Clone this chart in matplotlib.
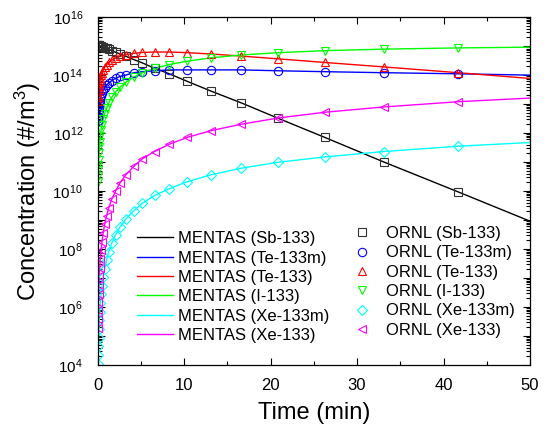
import numpy as np
import matplotlib
matplotlib.use("Agg")
import matplotlib.pyplot as plt
from matplotlib.ticker import LogLocator, FuncFormatter, MultipleLocator, NullFormatter

plt.rcParams["font.family"] = ["Liberation Sans", "DejaVu Sans"]
plt.rcParams["mathtext.fontset"] = "custom"
plt.rcParams["mathtext.rm"] = "Liberation Sans"
plt.rcParams["mathtext.it"] = "Liberation Sans:italic"

# ============================================================
#  A-133 chain concentrations [#/m^3] vs time [min]
# ============================================================
# MENTAS (lines)
t_mentas = [0.002, 0.005, 0.01, 0.02, 0.035, 0.052, 0.066, 0.083, 0.105, 0.13, 0.165,
            0.21, 0.26, 0.33, 0.42, 0.52, 0.66, 0.83, 1.05, 1.3, 1.65, 2.1, 2.6, 3.3,
            4.2, 5.2, 6.6, 8.3, 10.4, 13.1, 16.6, 20.9, 26.3, 33.1, 41.7, 50.0]
sb133_mentas = [1.1e15, 1.1e15, 1.1e15, 1.1e15, 1.1e15, 1.1e15, 1.1e15, 1.1e15, 1.1e15,
                1.1e15, 1.1e15, 1.0e15, 1.0e15, 1.0e15, 9.8e14, 9.5e14, 9.1e14, 8.7e14,
                8.2e14, 7.6e14, 6.9e14, 6.1e14, 5.3e14, 4.4e14, 3.4e14, 2.6e14, 1.7e14,
                1.1e14, 6.0e13, 2.8e13, 1.1e13, 3.2e12, 7.0e11, 1.0e11, 9.3e9, 9.1e8]
te133m_mentas = [9.9e10, 2.5e11, 4.9e11, 9.8e11, 1.7e12, 2.5e12, 3.2e12, 4.0e12, 5.1e12,
                 6.3e12, 7.9e12, 1.0e13, 1.2e13, 1.6e13, 1.9e13, 2.4e13, 3.0e13, 3.6e13,
                 4.5e13, 5.3e13, 6.4e13, 7.7e13, 8.9e13, 1.0e14, 1.2e14, 1.3e14, 1.4e14,
                 1.5e14, 1.5e14, 1.5e14, 1.5e14, 1.4e14, 1.3e14, 1.2e14, 1.1e14, 9.9e13]
te133_mentas = [5.2e11, 1.3e12, 2.6e12, 5.2e12, 9.0e12, 1.3e13, 1.7e13, 2.1e13, 2.7e13,
                3.3e13, 4.2e13, 5.2e13, 6.4e13, 8.1e13, 1.0e14, 1.2e14, 1.5e14, 1.9e14,
                2.3e14, 2.7e14, 3.3e14, 3.9e14, 4.4e14, 5.0e14, 5.6e14, 6.0e14, 6.2e14,
                6.2e14, 5.9e14, 5.3e14, 4.5e14, 3.6e14, 2.7e14, 1.9e14, 1.2e14, 7.6e13]
i133_mentas = [3.0e7, 1.9e8, 7.4e8, 3.0e9, 9.1e9, 2.0e10, 3.2e10, 5.1e10, 8.1e10, 1.2e11,
               2.0e11, 3.2e11, 4.9e11, 7.8e11, 1.3e12, 1.9e12, 3.0e12, 4.7e12, 7.3e12,
               1.1e13, 1.7e13, 2.6e13, 3.8e13, 5.7e13, 8.5e13, 1.2e14, 1.7e14, 2.3e14,
               3.0e14, 3.9e14, 4.9e14, 5.9e14, 6.9e14, 7.8e14, 8.6e14, 9.1e14]
xe133m_mentas = [0.33, 5.0, 40.0, 3.2e2, 1.7e3, 5.6e3, 1.1e4, 2.3e4, 4.6e4, 8.7e4, 1.8e5,
                 3.6e5, 6.9e5, 1.4e6, 2.9e6, 5.4e6, 1.1e7, 2.1e7, 4.2e7, 7.9e7, 1.6e8,
                 3.1e8, 5.7e8, 1.1e9, 2.1e9, 3.8e9, 7.0e9, 1.2e10, 2.1e10, 3.6e10, 6.1e10,
                 9.8e10, 1.5e11, 2.3e11, 3.5e11, 4.7e11]
xe133_mentas = [11.0, 1.7e2, 1.3e3, 1.1e4, 5.7e4, 1.9e5, 3.8e5, 7.6e5, 1.5e6, 2.9e6, 5.9e6,
                1.2e7, 2.3e7, 4.7e7, 9.6e7, 1.8e8, 3.6e8, 7.1e8, 1.4e9, 2.6e9, 5.2e9,
                1.0e10, 1.9e10, 3.7e10, 7.1e10, 1.3e11, 2.3e11, 4.1e11, 7.1e11, 1.2e12,
                2.0e12, 3.3e12, 5.2e12, 7.9e12, 1.2e13, 1.6e13]

# ORNL (markers)
t_ornl = [0.052, 0.066, 0.083, 0.105, 0.13, 0.165, 0.21, 0.26, 0.33, 0.42, 0.52, 0.66,
          0.83, 1.05, 1.3, 1.65, 2.1, 2.6, 3.3, 4.2, 5.2, 6.6, 8.3, 10.4, 13.1, 16.6,
          20.9, 26.3, 33.1, 41.7]
sb133_ornl = [1.1e15, 1.1e15, 1.1e15, 1.1e15, 1.1e15, 1.1e15, 1.0e15, 1.0e15, 1.0e15,
              9.8e14, 9.5e14, 9.1e14, 8.7e14, 8.2e14, 7.6e14, 6.9e14, 6.1e14, 5.3e14,
              4.4e14, 3.4e14, 2.6e14, 1.7e14, 1.1e14, 6.0e13, 2.8e13, 1.1e13, 3.2e12,
              7.0e11, 1.0e11, 9.3e9]
te133m_ornl = [2.5e12, 3.2e12, 4.0e12, 5.1e12, 6.3e12, 7.9e12, 1.0e13, 1.2e13, 1.6e13,
               1.9e13, 2.4e13, 3.0e13, 3.6e13, 4.5e13, 5.3e13, 6.4e13, 7.7e13, 8.9e13,
               1.0e14, 1.2e14, 1.3e14, 1.4e14, 1.5e14, 1.5e14, 1.5e14, 1.5e14, 1.4e14,
               1.3e14, 1.2e14, 1.1e14]
te133_ornl = [1.3e13, 1.7e13, 2.1e13, 2.7e13, 3.3e13, 4.2e13, 5.2e13, 6.4e13, 8.1e13,
              1.0e14, 1.2e14, 1.5e14, 1.9e14, 2.3e14, 2.7e14, 3.3e14, 3.9e14, 4.4e14,
              5.0e14, 5.6e14, 6.0e14, 6.2e14, 6.2e14, 5.9e14, 5.3e14, 4.5e14, 3.6e14,
              2.7e14, 1.9e14, 1.2e14]
i133_ornl = [2.0e10, 3.2e10, 5.1e10, 8.1e10, 1.2e11, 2.0e11, 3.2e11, 4.9e11, 7.8e11,
             1.3e12, 1.9e12, 3.0e12, 4.7e12, 7.3e12, 1.1e13, 1.7e13, 2.6e13, 3.8e13,
             5.7e13, 8.5e13, 1.2e14, 1.7e14, 2.3e14, 3.0e14, 3.9e14, 4.9e14, 5.9e14,
             6.9e14, 7.8e14, 8.6e14]
xe133m_ornl = [5.6e3, 1.1e4, 2.3e4, 4.6e4, 8.7e4, 1.8e5, 3.6e5, 6.9e5, 1.4e6, 2.9e6,
               5.4e6, 1.1e7, 2.1e7, 4.2e7, 7.9e7, 1.6e8, 3.1e8, 5.7e8, 1.1e9, 2.1e9,
               3.8e9, 7.0e9, 1.2e10, 2.1e10, 3.6e10, 6.1e10, 9.8e10, 1.5e11, 2.3e11,
               3.5e11]
xe133_ornl = [1.9e5, 3.8e5, 7.6e5, 1.5e6, 2.9e6, 5.9e6, 1.2e7, 2.3e7, 4.7e7, 9.6e7,
              1.8e8, 3.6e8, 7.1e8, 1.4e9, 2.6e9, 5.2e9, 1.0e10, 1.9e10, 3.7e10, 7.1e10,
              1.3e11, 2.3e11, 4.1e11, 7.1e11, 1.2e12, 2.0e12, 3.3e12, 5.2e12, 7.9e12,
              1.2e13]

nuclides = ["Sb-133", "Te-133m", "Te-133", "I-133", "Xe-133m", "Xe-133"]
mentas = [sb133_mentas, te133m_mentas, te133_mentas, i133_mentas, xe133m_mentas, xe133_mentas]
ornl = [sb133_ornl, te133m_ornl, te133_ornl, i133_ornl, xe133m_ornl, xe133_ornl]

colors = ["black", "#0000ff", "#ff0000", "#00ff00", "#00ffff", "#ff00ff"]
markers = ["s", "o", "^", "v", "D", "<"]
msizes = [5.5, 6.0, 6.0, 6.0, 4.8, 6.0]

# ============================================================
#  PLOT
# ============================================================
fig = plt.figure(figsize=(5.49, 4.34), dpi=100)
ax = fig.add_axes([97.5 / 549, 1 - 365 / 434, 432.5 / 549, 348 / 434])

h_lines = []
for vals, c in zip(mentas, colors):
    ln, = ax.plot(t_mentas, vals, color=c, lw=1.0)
    h_lines.append(ln)

h_pts = []
for vals, c, m, ms in zip(ornl, colors, markers, msizes):
    p, = ax.plot(t_ornl, vals, ls="none", marker=m, ms=ms, mfc="none",
                 mec="#333333" if c == "black" else c, mew=0.8)
    h_pts.append(p)

ax.set_yscale("log")
ax.set_xlim(0, 50)
ax.set_ylim(1e4, 1e16)
ax.xaxis.set_major_locator(MultipleLocator(10))
ax.xaxis.set_minor_locator(MultipleLocator(5))
ax.yaxis.set_major_locator(LogLocator(base=10, numticks=20))
ax.yaxis.set_minor_locator(LogLocator(base=10, subs=np.arange(2, 10), numticks=20))
ax.yaxis.set_minor_formatter(NullFormatter())


def even_decades(v, pos):
    e = int(round(np.log10(v)))
    return f"$10^{{{e}}}$" if e % 2 == 0 else ""


ax.yaxis.set_major_formatter(FuncFormatter(even_decades))
ax.tick_params(which="both", direction="in", top=True, right=True, width=0.8)
ax.tick_params(which="major", length=5)
ax.tick_params(which="minor", length=3)
ax.tick_params(axis="x", labelsize=12, pad=9)
ax.tick_params(axis="y", labelsize=11, pad=10.5)
for s in ax.spines.values():
    s.set_linewidth(0.9)

ax.set_xlabel("Time (min)", fontsize=17, labelpad=7)
ax.set_ylabel("Concentration (#/m$^3$)", fontsize=17, labelpad=7)

leg1 = ax.legend(h_lines, ["MENTAS (%s)" % n for n in nuclides], loc="center left",
                 bbox_to_anchor=(137 / 549, 1 - 287 / 434), bbox_transform=fig.transFigure,
                 frameon=False, fontsize=12, handlelength=2.15, handletextpad=0.3,
                 labelspacing=0.26, borderpad=0, borderaxespad=0)
ax.add_artist(leg1)
ax.legend(h_pts, ["ORNL (%s)" % n for n in nuclides], loc="center left",
          bbox_to_anchor=(354 / 549, 1 - 282 / 434), bbox_transform=fig.transFigure,
          frameon=False, fontsize=12, handlelength=1.0, handletextpad=0.9,
          labelspacing=0.26, borderpad=0, borderaxespad=0)

fig.savefig("out.png", dpi=100)
